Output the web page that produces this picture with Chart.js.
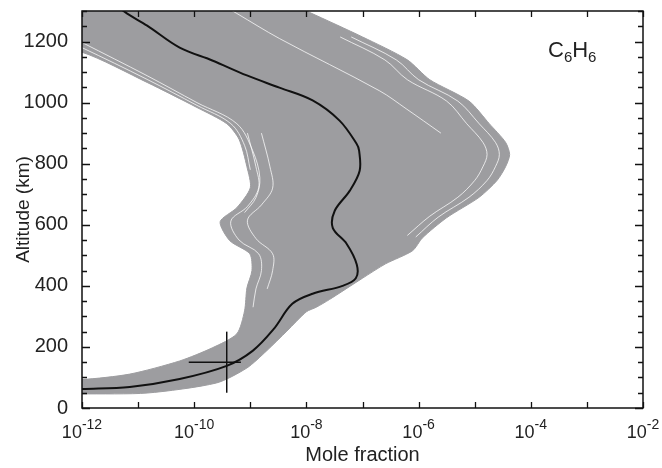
<!DOCTYPE html>
<html><head><meta charset="utf-8">
<script src="https://cdn.jsdelivr.net/npm/chart.js@4/dist/chart.umd.min.js"></script>
<style>html,body{margin:0;padding:0;background:#fff}canvas{display:block}</style>
</head><body>
<canvas id="c" width="662" height="468"></canvas>
<script>
// ---- data ----
const xTickValues = [1e-12, 1e-10, 1e-8, 1e-6, 1e-4, 1e-2];
const xTickExponents = ['-12', '-10', '-8', '-6', '-4', '-2'];
const yTickValues = [0, 200, 400, 600, 800, 1000, 1200];

// nominal profile (black)
const nominalX = [1e-12, 7.1e-12, 5.5e-11, 3.8e-10, 1.1e-9, 2.6e-9, 5.6e-9, 1.29e-8, 4.4e-8, 7.6e-8, 7.9e-8, 5.2e-8, 2.95e-8, 3.2e-8, 5.9e-8, 8.9e-8, 8.7e-8, 7.8e-8, 3.9e-8, 1.29e-8, 3.3e-9, 8.7e-10, 2.1e-10, 5.5e-11, 1.45e-11, 6.3e-12, 4e-12];
const nominalY = [62, 69, 95, 138, 187, 258, 341, 374, 400, 425, 470, 538, 590, 646, 711, 777, 843, 866, 941, 1007, 1049, 1089, 1138, 1180, 1252, 1292, 1320];

// envelope of the Monte Carlo profiles (grey)
const envX = [1e-13, 1e-13, 6.3e-10, 1.15e-8, 1e-7, 6.3e-7, 1.58e-6, 7.9e-6, 1.82e-5, 3.55e-5, 4.2e-5, 3.55e-5, 2.5e-5, 1.2e-5, 3.16e-6, 1.17e-6, 7.8e-7, 2.57e-7, 1e-7, 2.57e-8, 1.5e-8, 1e-8, 4.5e-9, 1.95e-9, 8.7e-10, 2.5e-10, 1.45e-11, 1e-12, 1e-13,
              1e-13, 1e-12, 7.1e-12, 5.5e-11, 2.1e-10, 5.75e-10, 7.9e-10, 8.7e-10, 1.07e-9, 9.8e-10, 4.3e-10, 2.9e-10, 5.75e-10, 1e-9, 8.7e-10, 6.3e-10, 3.8e-10, 1.12e-10, 1.45e-11, 1e-12, 1e-13];
const envY = [1190, 1400, 1400, 1295, 1215, 1140, 1075, 1005, 931, 870, 830, 790, 745, 690, 623, 557, 515, 472, 425, 355, 330, 315, 252, 187, 131, 82, 49, 46, 43,
              88, 93, 111, 154, 197, 243, 318, 393, 450, 505, 548, 610, 656, 721, 790, 880, 931, 984, 1066, 1165, 1190];

// light gaps between individual profiles
const gapL1X = [1e-13, 1e-12, 1.45e-11, 1.12e-10, 5.75e-10, 1.1e-9, 1.48e-9, 1.26e-9, 7.9e-10];
const gapL1Y = [1291, 1197, 1088, 1000, 931, 843, 754, 689, 640];
const gapL2X = [1e-13, 1e-12, 1.45e-11, 1.12e-10, 4.5e-10, 7.9e-10, 1e-9];
const gapL2Y = [1265, 1180, 1076, 991, 931, 860, 780];
const gapW1X = [8.9e-10, 1.26e-9, 1.41e-9, 8.9e-10, 4.5e-10, 6.3e-10, 1.41e-9, 1.58e-9, 1.26e-9, 1.12e-9];
const gapW1Y = [900, 790, 721, 660, 612, 550, 505, 450, 390, 330];
const gapW2X = [1.58e-9, 2.24e-9, 2.5e-9, 1.58e-9, 8.9e-10, 1.26e-9, 2.5e-9, 2.5e-9, 2e-9];
const gapW2Y = [900, 790, 720, 665, 615, 555, 505, 450, 390];
const gapAX = [3.16e-10, 5.75e-10, 3.3e-9, 2e-7, 6e-7, 2.5e-6];
const gapAY = [1320, 1292, 1210, 1039, 980, 900];
const gapR1X = [6.3e-8, 4e-7, 1e-6, 5e-6, 1.2e-5, 2.34e-5, 2.75e-5, 2.34e-5, 1.66e-5, 7.9e-6, 2.24e-6, 8.9e-7];
const gapR1Y = [1215, 1140, 1075, 1005, 931, 870, 830, 790, 745, 690, 625, 560];
const gapR2X = [4e-8, 2.5e-7, 6.3e-7, 3.16e-6, 7.2e-6, 1.4e-5, 1.66e-5, 1.4e-5, 1e-5, 5e-6, 1.58e-6, 6.3e-7];
const gapR2Y = [1215, 1140, 1075, 1005, 931, 870, 830, 790, 745, 690, 628, 565];

// observation with error bars
const obsX = 3.8e-10, obsY = 150;
const obsXErr = [8e-11, 6.8e-10];
const obsYErr = [50, 250];

// ---- build ----
const pts = (xs, ys) => xs.map((v, i) => ({x: v, y: ys[i]}));
const FONT = '"Liberation Sans", Arial, Helvetica, sans-serif';
Chart.defaults.font.family = FONT;
Chart.defaults.color = '#222';

const GREY = '#9d9da0';
const gapStyle = {showLine: true, borderColor: 'rgba(255,255,255,0.75)', borderWidth: 1, pointRadius: 0, tension: 0.35, fill: false, order: 5};

const frame = {
  id: 'frame',
  afterDraw(chart) {
    const {ctx, chartArea: a, scales: {x, y}} = chart;
    ctx.save();
    ctx.strokeStyle = '#111';
    ctx.lineWidth = 1.5;
    ctx.strokeRect(a.left, a.top, a.right - a.left, a.bottom - a.top);
    ctx.lineWidth = 1.3;
    ctx.beginPath();
    for (let v = 0; v <= 1300; v += 50) {
      const p = Math.round(y.getPixelForValue(v)) + 0.5;
      const len = v % 200 === 0 ? 8 : 5;
      ctx.moveTo(a.left, p); ctx.lineTo(a.left + len, p);
      ctx.moveTo(a.right, p); ctx.lineTo(a.right - len, p);
    }
    for (let e = -12; e <= -2; e++) {
      const p = Math.round(x.getPixelForValue(Math.pow(10, e))) + 0.5;
      const len = 6;
      ctx.moveTo(p, a.bottom); ctx.lineTo(p, a.bottom - len);
      ctx.moveTo(p, a.top); ctx.lineTo(p, a.top + len);
    }
    ctx.stroke();

    // x tick labels: 10 with a raised exponent
    ctx.fillStyle = '#222';
    ctx.textBaseline = 'alphabetic';
    ctx.textAlign = 'left';
    const baseF = '18px ' + FONT, expF = '14px ' + FONT;
    xTickValues.forEach((v, i) => {
      const px = x.getPixelForValue(v);
      ctx.font = baseF; const w1 = ctx.measureText('10').width;
      ctx.font = expF; const w2 = ctx.measureText(xTickExponents[i]).width;
      let sx = px - (w1 + w2) / 2;
      ctx.font = baseF; ctx.fillText('10', sx, a.bottom + 30);
      ctx.font = expF; ctx.fillText(xTickExponents[i], sx + w1, a.bottom + 21);
    });

    // species label C6H6
    let cx = 548; const base = 57;
    const big = '22px ' + FONT, small = '15px ' + FONT;
    const parts = [['C', big, 0], ['6', small, 5], ['H', big, 0], ['6', small, 5]];
    for (const [t, f, dy] of parts) {
      ctx.font = f;
      ctx.fillText(t, cx, base + dy);
      cx += ctx.measureText(t).width;
    }
    ctx.restore();
  }
};

new Chart(document.getElementById('c'), {
  type: 'scatter',
  data: {
    datasets: [
      {data: pts(nominalX, nominalY), showLine: true, borderColor: '#111', borderWidth: 2, pointRadius: 0, tension: 0.35, order: 0},
      {data: [{x: obsXErr[0], y: obsY}, {x: obsXErr[1], y: obsY}], showLine: true, borderColor: '#111', borderWidth: 1.5, pointRadius: 0, order: 0},
      {data: [{x: obsX, y: obsYErr[0]}, {x: obsX, y: obsYErr[1]}], showLine: true, borderColor: '#111', borderWidth: 1.5, pointRadius: 0, order: 0},
      Object.assign({data: pts(gapL1X, gapL1Y)}, gapStyle),
      Object.assign({data: pts(gapL2X, gapL2Y)}, gapStyle),
      Object.assign({data: pts(gapW1X, gapW1Y)}, gapStyle),
      Object.assign({data: pts(gapW2X, gapW2Y)}, gapStyle),
      Object.assign({data: pts(gapAX, gapAY)}, gapStyle),
      Object.assign({data: pts(gapR1X, gapR1Y)}, gapStyle),
      Object.assign({data: pts(gapR2X, gapR2Y)}, gapStyle),
      {data: pts(envX, envY), showLine: true, borderColor: GREY, backgroundColor: GREY, borderWidth: 1, pointRadius: 0, tension: 0.25, fill: 'shape', order: 10}
    ]
  },
  options: {
    responsive: false,
    devicePixelRatio: 1,
    animation: false,
    layout: {padding: {top: 11, right: 19, left: 0, bottom: 0}},
    plugins: {legend: {display: false}, tooltip: {enabled: false}},
    scales: {
      x: {
        type: 'logarithmic', min: 1e-12, max: 1e-2,
        grid: {display: false}, border: {display: false},
        afterBuildTicks: s => { s.ticks = xTickValues.map(v => ({value: v})); },
        afterFit: s => { s.height = 60; s.paddingLeft = 0; s.paddingRight = 0; },
        ticks: {display: false},
        title: {display: true, text: 'Mole fraction', color: '#222', font: {size: 20}, padding: {top: 0, bottom: 1}}
      },
      y: {
        type: 'linear', min: 0, max: 1300,
        grid: {display: false}, border: {display: false},
        afterBuildTicks: s => { s.ticks = yTickValues.map(v => ({value: v})); },
        afterFit: s => { s.width = 82; s.paddingTop = 0; s.paddingBottom = 0; },
        ticks: {padding: 6, autoSkip: false, color: '#222', font: {size: 20}, callback: v => String(v)},
        title: {display: true, text: 'Altitude (km)', color: '#222', font: {size: 19}, padding: {top: 12, bottom: 0}}
      }
    }
  },
  plugins: [frame]
});
</script>
</body></html>
